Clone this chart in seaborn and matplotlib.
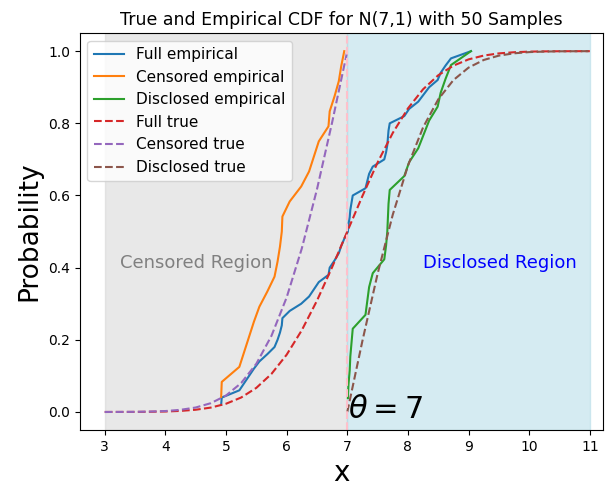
import numpy as np
import matplotlib
matplotlib.use("Agg")
import matplotlib.pyplot as plt
import seaborn as sns

# samples (sorted), split at theta = 7
censored_samples = [4.92, 4.93, 5.22, 5.30, 5.38, 5.46, 5.55, 5.68, 5.80, 5.85,
                    5.89, 5.92, 5.93, 6.05, 6.24, 6.37, 6.45, 6.53, 6.69, 6.71,
                    6.79, 6.86, 6.90, 6.95]
disclosed_samples = [7.01, 7.02, 7.04, 7.05, 7.07, 7.09, 7.30, 7.33, 7.36, 7.42,
                     7.61, 7.64, 7.66, 7.67, 7.68, 7.70, 7.94, 8.02, 8.17, 8.26,
                     8.35, 8.49, 8.54, 8.62, 8.71, 9.04]
full_samples = sorted(censored_samples + disclosed_samples)

# true CDF curves
x_full_true = [3.0, 3.25, 3.5, 3.75, 4.0, 4.25, 4.5, 4.75, 5.0, 5.25, 5.5, 5.75,
               6.0, 6.25, 6.5, 6.75, 7.0, 7.25, 7.5, 7.75, 8.0, 8.25, 8.5, 8.75,
               9.0, 9.25, 9.5, 9.75, 10.0, 10.25, 10.5, 10.75, 11.0]
y_full_true = [0.0, 0.0001, 0.0002, 0.0006, 0.0013, 0.0030, 0.0062, 0.0122, 0.0228,
               0.0401, 0.0668, 0.1056, 0.1587, 0.2266, 0.3085, 0.4013, 0.5,
               0.5987, 0.6915, 0.7734, 0.8413, 0.8944, 0.9332, 0.9599, 0.9772,
               0.9878, 0.9938, 0.9970, 0.9987, 0.9994, 0.9998, 0.9999, 1.0]
x_cens_true = [3.0, 3.25, 3.5, 3.75, 4.0, 4.25, 4.5, 4.75, 5.0, 5.25, 5.5, 5.75,
               6.0, 6.25, 6.5, 6.75, 7.0]
y_cens_true = [0.0, 0.0002, 0.0004, 0.0012, 0.0026, 0.0060, 0.0124, 0.0244, 0.0456,
               0.0802, 0.1336, 0.2112, 0.3174, 0.4532, 0.6170, 0.8026, 1.0]
x_disc_true = [7.0, 7.25, 7.5, 7.75, 8.0, 8.25, 8.5, 8.75, 9.0, 9.25, 9.5, 9.75,
               10.0, 10.25, 10.5, 10.75, 11.0]
y_disc_true = [0.0, 0.1974, 0.3830, 0.5468, 0.6826, 0.7888, 0.8664, 0.9198, 0.9544,
               0.9756, 0.9876, 0.9940, 0.9974, 0.9988, 0.9996, 0.9998, 1.0]

theta = 7

def ecdf_y(xs):
    n = len(xs)
    return np.arange(1, n + 1) / n

fig = plt.figure(figsize=(6.05, 4.87), dpi=100)
ax = fig.add_axes([0.132, 0.117, 0.865, 0.815])

ax.axvspan(3, theta, color="lightgray", alpha=0.5)
ax.axvspan(theta, 11, color="lightblue", alpha=0.5)

sns.lineplot(x=full_samples, y=ecdf_y(full_samples), label="Full empirical",
             estimator=None, ax=ax)
sns.lineplot(x=censored_samples, y=ecdf_y(censored_samples), label="Censored empirical",
             estimator=None, ax=ax)
sns.lineplot(x=disclosed_samples, y=ecdf_y(disclosed_samples), label="Disclosed empirical",
             estimator=None, ax=ax)
sns.lineplot(x=x_full_true, y=y_full_true, label="Full true", linestyle="--",
             estimator=None, ax=ax)
sns.lineplot(x=x_cens_true, y=y_cens_true, label="Censored true", linestyle="--",
             estimator=None, ax=ax)
sns.lineplot(x=x_disc_true, y=y_disc_true, label="Disclosed true", linestyle="--",
             estimator=None, ax=ax)

ax.axvline(theta, color="pink", linestyle="--")

ax.text(3.25, 0.4, "Censored Region", fontsize=13, color="gray")
ax.text(8.25, 0.4, "Disclosed Region", fontsize=13, color="blue")
ax.text(7.02, -0.017, r"$\theta = 7$", fontsize=22)

ax.set_xlim(2.59, 11.22)
ax.set_ylim(-0.05, 1.05)
ax.set_title("True and Empirical CDF for N(7,1) with 50 Samples", fontsize=12.5)
ax.set_xlabel("x", fontsize=20)
ax.set_ylabel("Probability", fontsize=19)
ax.legend(loc="upper left", fontsize=11)

plt.savefig("out.png", dpi=100)
